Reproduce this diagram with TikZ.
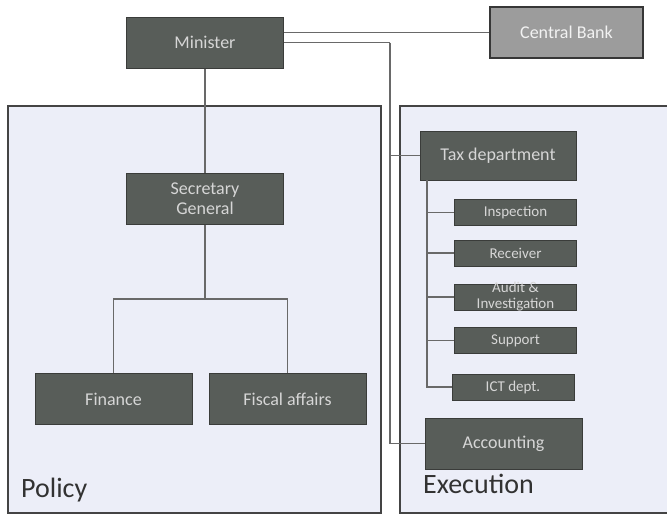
\documentclass[tikz,border=0pt]{standalone}
\usepackage{fontspec}
\setmainfont{Carlito}
\definecolor{boxgray}{RGB}{88,93,89}
\definecolor{boxedge}{RGB}{58,60,58}
\definecolor{boxtext}{RGB}{214,214,214}
\definecolor{bankgray}{RGB}{156,156,156}
\definecolor{bankedge}{RGB}{55,55,55}
\definecolor{panelfill}{RGB}{236,238,248}
\definecolor{paneledge}{RGB}{68,68,68}
\definecolor{wiregray}{RGB}{105,105,105}
\definecolor{labelgray}{RGB}{50,50,50}
\tikzset{
  unit/.style={draw=boxedge, fill=boxgray, text=boxtext, line width=1pt,
    minimum width=157pt, minimum height=51pt, inner sep=0pt, align=center,
    font=\fontsize{18}{20}\selectfont},
  subunit/.style={unit, minimum width=122pt, minimum height=26pt,
    font=\fontsize{15}{16}\selectfont},
  panel/.style={draw=paneledge, fill=panelfill, line width=1.5pt},
  side/.style={anchor=base west, inner sep=0pt, text=labelgray,
    font=\fontsize{28}{30}\selectfont},
  wire/.style={draw=wiregray, line width=1.2pt}
}
\begin{document}
\begin{tikzpicture}[x=1pt,y=-1pt]
  \useasboundingbox (0,0) rectangle (667,515);
  \fill[white] (0,0) rectangle (667,515);
  \draw[panel] (8,106) rectangle (381,513);
  \draw[panel] (400,106) rectangle (672,513);
  \node[side] (policy) at (21,497) {Policy};
  \node[side] (execution) at (423,493) {Execution};

  \node[unit] (minister) at (205,42.5) {Minister};
  \node[unit, fill=bankgray, draw=bankedge, line width=1.5pt,
    minimum width=153pt, text=white!90!gray] (bank) at (566.5,32.5) {Central Bank};
  \node[unit] (secgen) at (205,198.5) {Secretary\\General};
  \node[unit] (finance) at (113.5,399) {Finance};
  \node[unit] (fiscal) at (287.5,399) {Fiscal affairs};
  \node[unit, minimum width=156pt, minimum height=49pt] (tax) at (498,155.5) {Tax department};
  \node[subunit] (inspection) at (515.5,212.5) {Inspection};
  \node[subunit] (receiver) at (515.5,253) {Receiver};
  \node[subunit] (audit) at (515.5,297) {};
  \node[subunit, draw=none, fill=none] (audittext) at (audit) {Audit \&\\Investigation};
  \node[subunit] (support) at (515.5,340.5) {Support};
  \node[subunit] (ict) at (513,387) {ICT dept.};
  \node[unit] (accounting) at (503.5,443.5) {Accounting};

  \coordinate (trunk) at (390,42.5);
  \coordinate (split) at (205,299);
  \coordinate (taxbus) at (427,180);

  \begin{scope}[wire]
    \draw (minister.east |- bank.west) to (bank.west);
    \draw (minister.east) to (trunk);
    \draw (trunk) |- (accounting.west);
    \draw (trunk |- tax.west) to (tax.west);
    \draw (minister.south) to (secgen.north);
    \draw (secgen.south) to (split);
    \draw (finance.north) |- (split) -| (fiscal.north);
    \draw (taxbus) |- (ict.west);
    \foreach \sub in {inspection,receiver,audit,support}
      \draw (taxbus |- \sub.west) to (\sub.west);
  \end{scope}
\end{tikzpicture}
\end{document}
